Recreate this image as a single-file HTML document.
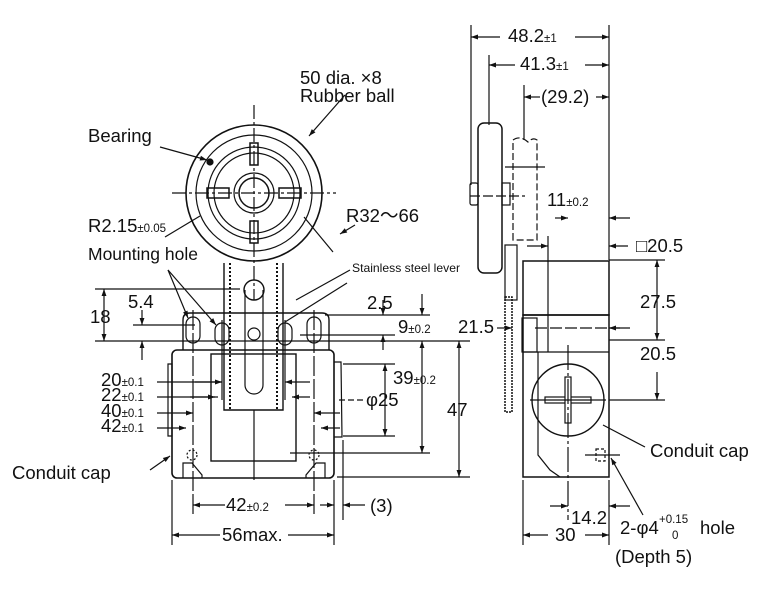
<!DOCTYPE html>
<html><head><meta charset="utf-8"><style>
html,body{margin:0;padding:0;background:#fff}
svg{display:block}
text{font-family:"Liberation Sans",sans-serif;fill:#111}
.b{font-size:18.5px}.s{font-size:11.5px}.m{font-size:17.5px}
</style></head><body>
<svg width="765" height="612" viewBox="0 0 765 612" xmlns="http://www.w3.org/2000/svg">
<defs>
<marker id="a" viewBox="0 0 10 10" refX="10" refY="5" markerWidth="9" markerHeight="7" orient="auto-start-reverse" markerUnits="userSpaceOnUse"><path d="M0,1.5L10,5L0,8.5z" fill="#111"/></marker>
</defs>
<g stroke="#111" fill="none" stroke-width="1.2">
<!-- wheel front -->
<circle cx="254" cy="193" r="68" stroke-width="1.6"/>
<circle cx="254" cy="193" r="58"/>
<circle cx="254" cy="193" r="46"/>
<circle cx="254" cy="193" r="40"/>
<circle cx="254" cy="193" r="15" stroke-width="1.5"/>
<circle cx="254" cy="193" r="20"/>
<rect x="250" y="143" width="8" height="22" stroke-width="1.5"/>
<rect x="250" y="221" width="8" height="22" stroke-width="1.5"/>
<rect x="207" y="188" width="22" height="10" stroke-width="1.5"/>
<rect x="279" y="188" width="22" height="10" stroke-width="1.5"/>
<line x1="254" y1="105" x2="254" y2="300" stroke-dasharray="14,3,3,3"/>
<line x1="172" y1="193" x2="336" y2="193" stroke-dasharray="14,3,3,3"/>
<circle cx="210" cy="162" r="3" fill="#111"/>
<!-- lever -->
<path d="M224,263 L224,410 L283,410 L283,263" stroke-width="1.4"/>
<path d="M230,263 L230,410 M277,263 L277,410" stroke-dasharray="2,2" stroke-width="2"/>
<path d="M245,290 L245,385 A9,9 0 0 0 263,385 L263,290"/>
<circle cx="254" cy="290" r="10" stroke-width="1.4"/>
<circle cx="254" cy="334" r="6"/>
<!-- body -->
<path d="M190,313 L322,313 Q329,313 329,320 L329,350 M183,350 L183,320 Q183,313 190,313" stroke-width="1.4"/>
<rect x="172" y="350" width="162" height="128" rx="5" stroke-width="1.6"/>
<rect x="211" y="354" width="85" height="107" stroke-width="1.4"/>
<path d="M168,364 L172,364 L172,436 L168,436 Z M334,362 L341,362 L342,437 L334,437"/>
<rect x="186" y="317" width="14" height="26" rx="7"/>
<rect x="215" y="323" width="14" height="22" rx="7"/>
<rect x="278" y="323" width="14" height="22" rx="7"/>
<rect x="307" y="317" width="14" height="26" rx="7"/>
<circle cx="192" cy="455" r="5" stroke-dasharray="2,2"/>
<circle cx="314" cy="455" r="5" stroke-dasharray="2,2"/>
<path d="M183,478 L183,463 L192,463 L202,475 L202,478 M325,478 L325,463 L316,463 L306,475 L306,478"/>
<line x1="254" y1="410" x2="254" y2="480"/>
<!-- front dims horizontal lines -->
<line x1="95" y1="289" x2="240" y2="289"/>
<line x1="95" y1="341" x2="470" y2="341"/>
<line x1="133" y1="325" x2="195" y2="325"/>
<line x1="325" y1="315" x2="430" y2="315"/>
<line x1="300" y1="335" x2="395" y2="335"/>
<line x1="343" y1="364" x2="395" y2="364"/>
<line x1="343" y1="436" x2="395" y2="436"/>
<line x1="290" y1="453" x2="430" y2="453"/>
<line x1="337" y1="477" x2="470" y2="477"/>
<line x1="104" y1="289" x2="104" y2="341" marker-start="url(#a)" marker-end="url(#a)"/>
<line x1="142" y1="310" x2="142" y2="325" marker-end="url(#a)"/>
<line x1="142" y1="360" x2="142" y2="341" marker-end="url(#a)"/>
<line x1="383" y1="300" x2="383" y2="315" marker-end="url(#a)"/>
<line x1="383" y1="350" x2="383" y2="335" marker-end="url(#a)"/>
<line x1="422" y1="294" x2="422" y2="315" marker-end="url(#a)"/>
<line x1="422" y1="341" x2="422" y2="453" marker-start="url(#a)" marker-end="url(#a)"/>
<line x1="385" y1="364" x2="385" y2="436" marker-start="url(#a)" marker-end="url(#a)"/>
<line x1="459" y1="341" x2="459" y2="477" marker-start="url(#a)" marker-end="url(#a)"/>
<line x1="339" y1="400" x2="365" y2="400" stroke-dasharray="6,3"/>
<line x1="157" y1="382" x2="222" y2="382"/><line x1="195" y1="382" x2="222" y2="382" marker-end="url(#a)"/>
<line x1="157" y1="397" x2="218" y2="397"/><line x1="190" y1="397" x2="215" y2="397" marker-end="url(#a)"/>
<line x1="157" y1="413" x2="193" y2="413" marker-end="url(#a)"/>
<line x1="157" y1="428" x2="186" y2="428" marker-end="url(#a)"/>
<line x1="310" y1="382" x2="285" y2="382" marker-end="url(#a)"/>
<line x1="310" y1="397" x2="292" y2="397" marker-end="url(#a)"/>
<line x1="340" y1="413" x2="314" y2="413" marker-end="url(#a)"/>
<line x1="340" y1="428" x2="321" y2="428" marker-end="url(#a)"/>
<line x1="193" y1="310" x2="193" y2="515" stroke-dasharray="20,3"/>
<line x1="314" y1="310" x2="314" y2="515" stroke-dasharray="20,3"/>
<line x1="222" y1="320" x2="222" y2="400"/><line x1="285" y1="320" x2="285" y2="400"/>
<line x1="172" y1="480" x2="172" y2="545"/><line x1="334" y1="480" x2="334" y2="545"/><line x1="343" y1="440" x2="343" y2="520"/>
<line x1="193" y1="505" x2="225" y2="505" marker-start="url(#a)"/><line x1="285" y1="505" x2="314" y2="505" marker-end="url(#a)"/>
<line x1="320" y1="505" x2="334" y2="505" marker-end="url(#a)"/><line x1="365" y1="505" x2="343" y2="505" marker-end="url(#a)"/>
<line x1="172" y1="535" x2="220" y2="535" marker-start="url(#a)"/><line x1="288" y1="535" x2="334" y2="535" marker-end="url(#a)"/>
<!-- leaders -->
<line x1="160" y1="147" x2="207" y2="160" marker-end="url(#a)"/>
<line x1="345" y1="95" x2="309" y2="136" marker-end="url(#a)"/>
<line x1="165" y1="237" x2="200" y2="216"/>
<line x1="355" y1="225" x2="340" y2="234" marker-end="url(#a)"/>
<line x1="304" y1="217" x2="333" y2="252"/>
<line x1="350" y1="270" x2="296" y2="300"/>
<line x1="347" y1="283" x2="285" y2="322"/>
<line x1="168" y1="270" x2="188" y2="318" marker-end="url(#a)"/>
<line x1="168" y1="270" x2="216" y2="325" marker-end="url(#a)"/>
<line x1="150" y1="470" x2="170" y2="456" marker-end="url(#a)"/>
<!-- side view -->
<rect x="478" y="123" width="24" height="150" rx="6" stroke-width="1.5"/>
<rect x="470" y="183" width="8" height="22" rx="2"/>
<rect x="502" y="183" width="8" height="22"/>
<line x1="470" y1="196" x2="525" y2="196" stroke-dasharray="10,3"/>
<path d="M513,240 L513,140 Q520,135 528,142 Q533,137 537,140 L537,240 Z" stroke-dasharray="7,3"/>
<line x1="505" y1="167" x2="545" y2="167"/>
<rect x="505" y="245" width="12" height="55"/>
<path d="M505,297 L512,297 L512,412 L505,412 Z" stroke-dasharray="2,1" stroke-width="1.5"/>
<rect x="523" y="261" width="86" height="54" stroke-width="1.5"/>
<line x1="548" y1="261" x2="548" y2="315"/>
<rect x="523" y="315" width="86" height="162" stroke-width="1.5"/>
<line x1="548" y1="315" x2="548" y2="352"/><line x1="523" y1="352" x2="609" y2="352"/>
<rect x="522" y="318" width="15" height="34"/>
<circle cx="568" cy="400" r="36" stroke-width="1.4"/>
<rect x="545" y="397" width="46" height="6" fill="#fff"/>
<rect x="565" y="377" width="6" height="46" fill="#fff"/>
<rect x="566" y="398" width="4" height="4" fill="#fff" stroke="none"/>
<path d="M538,352 L538,455 L550,470 L560,477"/>
<rect x="596" y="449" width="9" height="12" stroke-dasharray="3,2"/>
<line x1="585" y1="455" x2="620" y2="455"/>
<line x1="568" y1="345" x2="568" y2="520" stroke-dasharray="25,3,3,3"/>
<line x1="530" y1="400" x2="606" y2="400"/>
<line x1="535" y1="328" x2="620" y2="328" stroke-dasharray="12,3"/>
<!-- side dims -->
<line x1="471" y1="25" x2="471" y2="185"/><line x1="489" y1="55" x2="489" y2="125"/><line x1="524" y1="85" x2="524" y2="140"/>
<line x1="609" y1="25" x2="609" y2="260"/>
<line x1="471" y1="37" x2="500" y2="37" marker-start="url(#a)"/><line x1="575" y1="37" x2="609" y2="37" marker-end="url(#a)"/>
<line x1="489" y1="65" x2="515" y2="65" marker-start="url(#a)"/><line x1="585" y1="65" x2="609" y2="65" marker-end="url(#a)"/>
<line x1="524" y1="97" x2="540" y2="97" marker-start="url(#a)"/><line x1="596" y1="97" x2="609" y2="97" marker-end="url(#a)"/>
<line x1="555" y1="218" x2="568" y2="218" marker-end="url(#a)"/><line x1="630" y1="218" x2="609" y2="218" marker-end="url(#a)"/>
<line x1="548" y1="236" x2="548" y2="262"/>
<line x1="527" y1="246" x2="548" y2="246" marker-end="url(#a)"/><line x1="628" y1="246" x2="609" y2="246" marker-end="url(#a)"/>
<line x1="609" y1="260" x2="665" y2="260"/><line x1="609" y1="340" x2="665" y2="340"/><line x1="609" y1="400" x2="665" y2="400"/>
<line x1="657" y1="260" x2="657" y2="340" marker-start="url(#a)" marker-end="url(#a)"/>
<line x1="657" y1="372" x2="657" y2="400" marker-end="url(#a)"/>
<line x1="497" y1="328" x2="512" y2="328" marker-end="url(#a)"/><line x1="630" y1="328" x2="609" y2="328" marker-end="url(#a)"/>
<line x1="523" y1="480" x2="523" y2="545"/><line x1="609" y1="480" x2="609" y2="545"/>
<line x1="550" y1="506" x2="568" y2="506" marker-end="url(#a)"/><line x1="630" y1="506" x2="609" y2="506" marker-end="url(#a)"/>
<line x1="523" y1="535" x2="548" y2="535" marker-start="url(#a)"/><line x1="585" y1="535" x2="609" y2="535" marker-end="url(#a)"/>
<line x1="645" y1="447" x2="603" y2="425"/>
<line x1="643" y1="515" x2="611" y2="458" marker-end="url(#a)"/>
</g>
<g>
<text x="300" y="84" class="b">50 dia. ×8</text>
<text x="300" y="102" class="b">Rubber ball</text>
<text x="88" y="142" class="b">Bearing</text>
<text x="88" y="232" class="b">R2.15<tspan class="s">±0.05</tspan></text>
<text x="88" y="260" class="m">Mounting hole</text>
<text x="346" y="222" class="b">R32～66</text>
<text x="352" y="272" style="font-size:12px" textLength="108" lengthAdjust="spacingAndGlyphs">Stainless steel lever</text>
<text x="90" y="323" class="b">18</text>
<text x="128" y="308" class="b">5.4</text>
<text x="367" y="309" class="b">2.5</text>
<text x="398" y="333" class="b">9<tspan class="s">±0.2</tspan></text>
<text x="458" y="333" class="b">21.5</text>
<text x="101" y="386" class="b">20<tspan class="s">±0.1</tspan></text>
<text x="101" y="401" class="b">22<tspan class="s">±0.1</tspan></text>
<text x="101" y="417" class="b">40<tspan class="s">±0.1</tspan></text>
<text x="101" y="432" class="b">42<tspan class="s">±0.1</tspan></text>
<text x="393" y="384" class="b">39<tspan class="s">±0.2</tspan></text>
<text x="366" y="406" class="b">φ25</text>
<text x="447" y="416" class="b">47</text>
<text x="12" y="479" class="b">Conduit cap</text>
<text x="226" y="511" class="b">42<tspan class="s">±0.2</tspan></text>
<text x="370" y="512" class="b">(3)</text>
<text x="222" y="541" class="b">56max.</text>
<text x="508" y="42" class="b">48.2<tspan class="s">±1</tspan></text>
<text x="520" y="70" class="b">41.3<tspan class="s">±1</tspan></text>
<text x="541" y="103" class="b">(29.2)</text>
<text x="547" y="206" class="b">11<tspan class="s">±0.2</tspan></text>
<text x="636" y="252" class="b">□20.5</text>
<text x="640" y="308" class="b">27.5</text>
<text x="640" y="360" class="b">20.5</text>
<text x="650" y="457" class="b">Conduit cap</text>
<text x="571" y="524" class="b">14.2</text>
<text x="555" y="541" class="b">30</text>
<text x="620" y="534" class="b">2-φ4</text>
<text x="659" y="523" class="s">+0.15</text>
<text x="672" y="539" class="s">0</text>
<text x="700" y="534" class="b">hole</text>
<text x="615" y="563" class="b">(Depth 5)</text>
</g>
</svg>
</body></html>
